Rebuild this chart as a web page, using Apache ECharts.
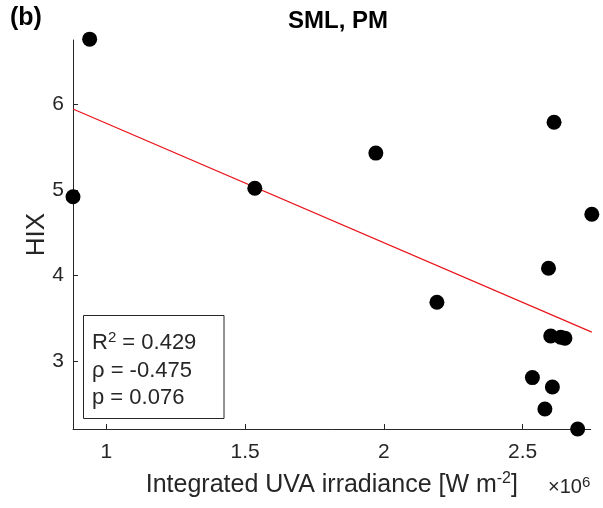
<!DOCTYPE html>
<html>
<head>
<meta charset="utf-8">
<script src="https://cdn.jsdelivr.net/npm/echarts@6/dist/echarts.min.js"></script>
<style>
html,body{margin:0;padding:0;background:#fff;}
#chart{width:603px;height:508px;}
</style>
</head>
<body>
<div id="chart"></div>
<script>
// Data (x in units of 10^6 W m^-2)
const uvaIrradiance = [0.94, 0.88, 1.535, 1.971, 2.191, 2.613, 2.749, 2.593, 2.601, 2.637, 2.652, 2.535, 2.607, 2.58, 2.698];
const hixValues     = [6.76, 4.92, 5.02, 5.43, 3.69, 5.79, 4.716, 4.086, 3.295, 3.28, 3.27, 2.81, 2.70, 2.444, 2.21];
const fitX = [0.88, 2.749];
const fitY = [5.945, 3.34];
const xTicks = [1, 1.5, 2, 2.5];
const yTicks = [3, 4, 5, 6];
const statsLines = ['0.429', '-0.475', '0.076'];

const points = uvaIrradiance.map((x, i) => [x, hixValues[i]]);
const fitLine = fitX.map((x, i) => [x, fitY[i]]);

const FONT = '"Liberation Sans", Arial, Helvetica, sans-serif';
const TXT = '#262626';

const chart = echarts.init(document.getElementById('chart'), null, {renderer: 'canvas'});
chart.setOption({
  animation: false,
  backgroundColor: '#fff',
  textStyle: {fontFamily: FONT},
  title: {
    text: 'SML, PM',
    left: 333, top: 4, textAlign: 'center',
    textStyle: {fontFamily: FONT, fontWeight: 'bold', fontSize: 24, color: '#000'}
  },
  grid: {left: 73, right: 12.3, top: 40, bottom: 79, containLabel: false},
  xAxis: {
    type: 'value', min: 0.88, max: 2.745,
    name: 'Integrated UVA irradiance [W m{sup|-2}]',
    nameLocation: 'middle', nameGap: 42, nameMoveOverlap: false,
    nameTextStyle: {
      fontFamily: FONT, fontSize: 25, color: TXT,
      rich: {sup: {fontFamily: FONT, fontSize: 16, color: TXT, verticalAlign: 'top', padding: [0, 0, 12, 0]}}
    },
    axisLine: {show: true, lineStyle: {color: TXT, width: 1}},
    axisTick: {show: true, inside: true, length: 5, customValues: xTicks, lineStyle: {color: TXT}},
    axisLabel: {customValues: xTicks, fontFamily: FONT, fontSize: 21, color: TXT, margin: 13,
      formatter: v => String(v)},
    splitLine: {show: false}
  },
  yAxis: {
    type: 'value', min: 2.21, max: 6.75,
    name: 'HIX', nameLocation: 'middle', nameGap: 23, nameRotate: 90, nameMoveOverlap: false,
    nameTextStyle: {fontFamily: FONT, fontSize: 26, color: TXT},
    axisLine: {show: true, lineStyle: {color: TXT, width: 1}},
    axisTick: {show: true, inside: true, length: 5, customValues: yTicks, lineStyle: {color: TXT}},
    axisLabel: {customValues: yTicks, fontFamily: FONT, fontSize: 21, color: TXT, margin: 9,
      formatter: v => String(v)},
    splitLine: {show: false}
  },
  graphic: [
    {type: 'text', left: 10, top: 6,
      style: {text: '(b)', font: 'bold 25px ' + FONT, fill: '#000'}},
    {type: 'text', left: 548, top: 475,
      style: {text: '×10{s|6}', fill: TXT, font: '20px ' + FONT,
        rich: {s: {fontSize: 15, fill: TXT, verticalAlign: 'top', padding: [0,0,10,0]}}}},
    {type: 'rect', shape: {x: 83.5, y: 315.5, width: 140.5, height: 103},
      style: {fill: '#fff', stroke: TXT, lineWidth: 1}, z: 100},
    {type: 'text', x: 92, y: 330, z: 101,
      style: {text: 'R{s|2} = ' + statsLines[0], fill: TXT, font: '22px ' + FONT,
        rich: {s: {fontSize: 15, fill: TXT, verticalAlign: 'top', padding: [0,0,10,0]}}}},
    {type: 'text', x: 92, y: 360, z: 101,
      style: {text: 'ρ = ' + statsLines[1], fill: TXT, font: '22px ' + FONT}},
    {type: 'text', x: 92, y: 387, z: 101,
      style: {text: 'p = ' + statsLines[2], fill: TXT, font: '22px ' + FONT}}
  ],
  series: [
    {
      type: 'line', data: fitLine, symbol: 'none', clip: false,
      lineStyle: {color: '#e8141b', width: 1.3}, z: 2
    },
    {
      type: 'scatter', data: points, symbol: 'circle', symbolSize: 15, clip: false,
      itemStyle: {color: '#000', opacity: 1}, z: 3
    }
  ]
});
</script>
</body>
</html>
